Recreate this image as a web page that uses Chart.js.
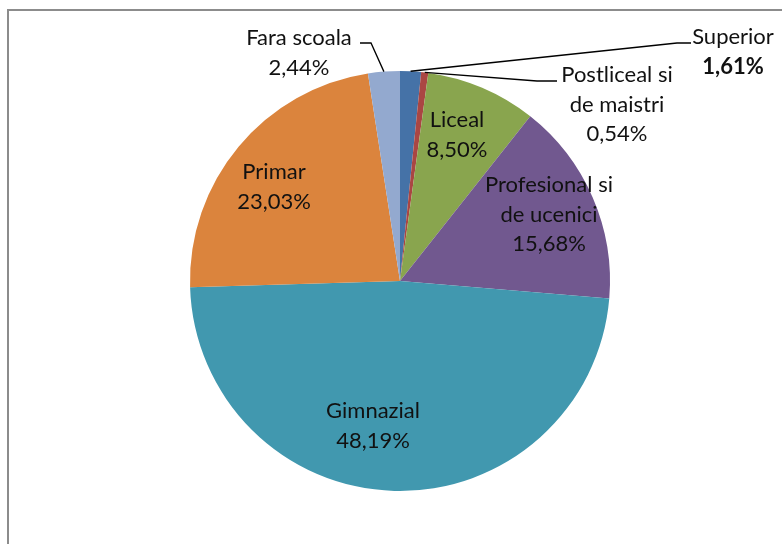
<!DOCTYPE html>
<html>
<head>
<meta charset="utf-8">
<script src="https://cdn.jsdelivr.net/npm/chart.js@4/dist/chart.umd.min.js"></script>
<style>
  html, body { margin: 0; padding: 0; background: #fff; overflow: hidden; }
  #cadru { position: absolute; left: 0; top: 0; width: 782px; height: 544px; }
  #margine { position: absolute; left: 7px; top: 9px; width: 2000px; height: 2000px;
    border-top: 2px solid #8c8c8c; border-left: 2px solid #8c8c8c; }
  #grafic { position: absolute; left: 0; top: 0; }
</style>
</head>
<body>
<div id="cadru">
  <div id="margine"></div>
  <canvas id="grafic" width="782" height="544"></canvas>
</div>
<script>
// Date
const categorii = ['Superior', 'Postliceal si de maistri', 'Liceal', 'Profesional si de ucenici', 'Gimnazial', 'Primar', 'Fara scoala'];
const procente = [1.61, 0.54, 8.50, 15.68, 48.19, 23.03, 2.44];
const culori = ['#4572A7', '#AA4643', '#89A54E', '#71588F', '#4198AF', '#DB843D', '#93A9CF'];
const randuriEticheta = [
  ['Superior'],
  ['Postliceal si', 'de maistri'],
  ['Liceal'],
  ['Profesional si', 'de ucenici'],
  ['Gimnazial'],
  ['Primar'],
  ['Fara scoala']
];

// pozitia etichetelor (centrul primului rand) si liniile de legatura
const pozEtichete = [
  { x: 733, y: 37, bold: true, linie: [[677, 43], [691, 43]] },
  { x: 617, y: 75, linie: [[537, 81], [557, 81]] },
  { x: 457, y: 120 },
  { x: 549, y: 185 },
  { x: 373, y: 411 },
  { x: 274, y: 172 },
  { x: 299, y: 38, linie: [[371, 43], [360, 43]] }
];
const pasRand = 29.5;
const font = '22px Lato, "Liberation Sans", sans-serif';

function formatProcent(v) {
  return v.toFixed(2).replace('.', ',') + '%';
}

const eticheteGrafic = {
  id: 'eticheteGrafic',
  afterDraw(chart) {
    const ctx = chart.ctx;
    const arce = chart.getDatasetMeta(0).data;
    ctx.save();
    ctx.textAlign = 'center';
    ctx.textBaseline = 'middle';
    arce.forEach((arc, i) => {
      const p = pozEtichete[i];
      // linie de legatura spre felie
      if (p.linie) {
        const unghi = (arc.startAngle + arc.endAngle) / 2;
        const ax = arc.x + Math.cos(unghi) * arc.outerRadius;
        const ay = arc.y + Math.sin(unghi) * arc.outerRadius;
        ctx.strokeStyle = '#000';
        ctx.lineWidth = 1.3;
        ctx.beginPath();
        ctx.moveTo(ax, ay);
        p.linie.forEach(pt => ctx.lineTo(pt[0], pt[1]));
        ctx.stroke();
      }
      const randuri = randuriEticheta[i].concat([formatProcent(procente[i])]);
      ctx.fillStyle = '#111';
      randuri.forEach((t, k) => {
        const ultim = k === randuri.length - 1;
        ctx.font = (p.bold && ultim ? 'bold ' : '') + font;
        ctx.fillText(t, p.x, p.y + k * pasRand);
      });
    });
    ctx.restore();
  }
};

new Chart(document.getElementById('grafic'), {
  type: 'pie',
  data: {
    labels: categorii,
    datasets: [{
      data: procente,
      backgroundColor: culori,
      borderWidth: 0
    }]
  },
  options: {
    responsive: false,
    animation: false,
    layout: { padding: { left: 168, right: 150, top: 71, bottom: 53 } },
    plugins: {
      legend: { display: false },
      tooltip: { enabled: false }
    }
  },
  plugins: [eticheteGrafic]
});
</script>
</body>
</html>
